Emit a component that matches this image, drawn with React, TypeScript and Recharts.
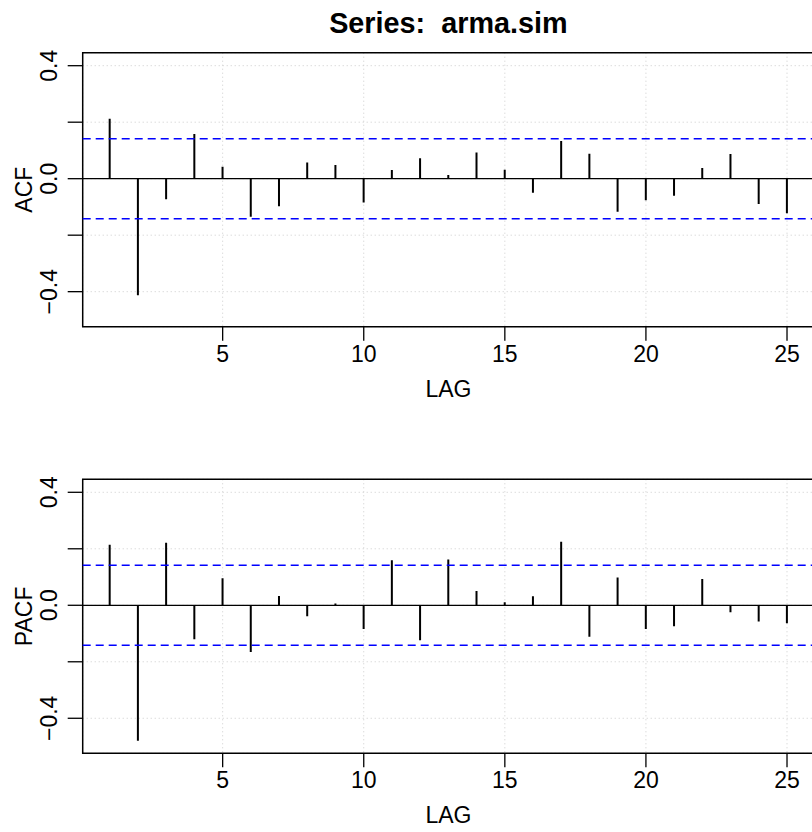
import {
  Bar,
  CartesianGrid,
  ComposedChart,
  ReferenceArea,
  ReferenceLine,
  XAxis,
  YAxis,
} from "recharts";

const LAGS = [
  1, 2, 3, 4, 5, 6, 7, 8, 9, 10, 11, 12, 13, 14, 15, 16, 17, 18, 19, 20, 21,
  22, 23, 24, 25,
];
const ACF_VALUES = [
  0.212, -0.413, -0.073, 0.158, 0.042, -0.135, -0.098, 0.057, 0.048, -0.084,
  0.031, 0.072, 0.013, 0.093, 0.032, -0.05, 0.133, 0.088, -0.117, -0.076,
  -0.06, 0.038, 0.087, -0.09, -0.122,
];
const PACF_VALUES = [
  0.214, -0.48, 0.221, -0.12, 0.096, -0.165, 0.033, -0.039, 0.006, -0.084,
  0.159, -0.124, 0.162, 0.051, 0.011, 0.032, 0.225, -0.111, 0.098, -0.084,
  -0.074, 0.093, -0.025, -0.057, -0.064,
];
const X_TICKS = [5, 10, 15, 20, 25];
const Y_TICKS = [-0.4, -0.2, 0, 0.2, 0.4];
const Y_LABELED = [-0.4, 0, 0.4];
const CONF = 0.1414; // 2 / sqrt(200)

const X_DOMAIN: [number, number] = [0.04, 25.96];
const Y_DOMAIN: [number, number] = [-0.524, 0.446];
const FONT = "'Liberation Sans', Arial, Helvetica, sans-serif";
const FS = 23;

const acfData = LAGS.map((lag, i) => ({ lag, value: ACF_VALUES[i] }));
const pacfData = LAGS.map((lag, i) => ({ lag, value: PACF_VALUES[i] }));

const fmt = (v: number) => (v < 0 ? "\u2212" + Math.abs(v).toFixed(1) : v.toFixed(1));

const XTick = ({ x, y, payload }: any) => (
  <text
    x={x}
    y={y + 21}
    textAnchor="middle"
    fontFamily={FONT}
    fontSize={FS}
    fill="#000"
  >
    {payload.value}
  </text>
);

const YTick = ({ x, y, payload }: any) => {
  const v = Number(payload.value);
  if (!Y_LABELED.some((t) => Math.abs(t - v) < 1e-6)) return null;
  return (
    <text
      x={x}
      y={y}
      transform={`rotate(-90, ${x}, ${y})`}
      textAnchor="middle"
      fontFamily={FONT}
      fontSize={FS}
      fill="#000"
    >
      {fmt(v)}
    </text>
  );
};

function Panel({
  data,
  yLabel,
  top,
  marginTop,
  marginBottom,
  title,
}: {
  data: { lag: number; value: number }[];
  yLabel: string;
  top: number;
  marginTop: number;
  marginBottom: number;
  title?: string;
}) {
  const height = 416;
  const plotTop = marginTop;
  const plotBottom = height - marginBottom - 40;
  const midY = (plotTop + plotBottom) / 2;
  const midX = (82.7 + 814.1) / 2;
  return (
    <div style={{ position: "absolute", left: 0, top }}>
      <ComposedChart
        width={820}
        height={height}
        data={data}
        margin={{ top: marginTop, right: 5.9, bottom: marginBottom, left: 0 }}
      >
        <CartesianGrid
          stroke="#cccccc"
          strokeDasharray="1 3"
          strokeWidth={1}
        />
        <XAxis
          dataKey="lag"
          type="number"
          domain={X_DOMAIN}
          ticks={X_TICKS}
          allowDataOverflow
          height={40}
          axisLine={false}
          tickLine={{ stroke: "#000", strokeWidth: 1.3 }}
          tickSize={14}
          tickMargin={0}
          tick={<XTick />}
        />
        <YAxis
          type="number"
          domain={Y_DOMAIN}
          ticks={Y_TICKS}
          allowDataOverflow
          width={82.7}
          axisLine={false}
          tickLine={{ stroke: "#000", strokeWidth: 1.3 }}
          tickSize={15}
          tickMargin={11}
          tick={<YTick />}
        />
        <ReferenceLine y={0} stroke="#000" strokeWidth={1.3} />
        <ReferenceLine
          y={CONF}
          stroke="#0000ff"
          strokeWidth={1.5}
          strokeDasharray="8 5"
        />
        <ReferenceLine
          y={-CONF}
          stroke="#0000ff"
          strokeWidth={1.5}
          strokeDasharray="8 5"
        />
        <Bar
          dataKey="value"
          fill="#000"
          barSize={2}
          isAnimationActive={false}
        />
        <ReferenceArea
          x1={X_DOMAIN[0]}
          x2={X_DOMAIN[1]}
          y1={Y_DOMAIN[0]}
          y2={Y_DOMAIN[1]}
          fill="none"
          fillOpacity={0}
          stroke="#000"
          strokeWidth={1.5}
          ifOverflow="visible"
        />
        {title && (
          <text
            x={midX}
            y={33}
            textAnchor="middle"
            fontFamily={FONT}
            fontSize={28.8}
            fontWeight="bold"
            fill="#000"
            style={{ whiteSpace: "pre" }}
          >
            {title}
          </text>
        )}
        <text
          x={midX}
          y={plotBottom + 70}
          textAnchor="middle"
          fontFamily={FONT}
          fontSize={FS}
          fill="#000"
        >
          LAG
        </text>
        <text
          x={32}
          y={midY}
          transform={`rotate(-90, 32, ${midY})`}
          textAnchor="middle"
          fontFamily={FONT}
          fontSize={FS}
          fill="#000"
        >
          {yLabel}
        </text>
      </ComposedChart>
    </div>
  );
}

export default function App() {
  return (
    <div
      style={{
        position: "absolute",
        left: 0,
        top: 0,
        width: 812,
        height: 832,
        overflow: "hidden",
        background: "#fff",
      }}
    >
      <Panel
        data={acfData}
        yLabel="ACF"
        top={0}
        marginTop={52.7}
        marginBottom={49.3}
        title="Series:  arma.sim"
      />
      <Panel
        data={pacfData}
        yLabel="PACF"
        top={416}
        marginTop={63.3}
        marginBottom={38.7}
      />
    </div>
  );
}
